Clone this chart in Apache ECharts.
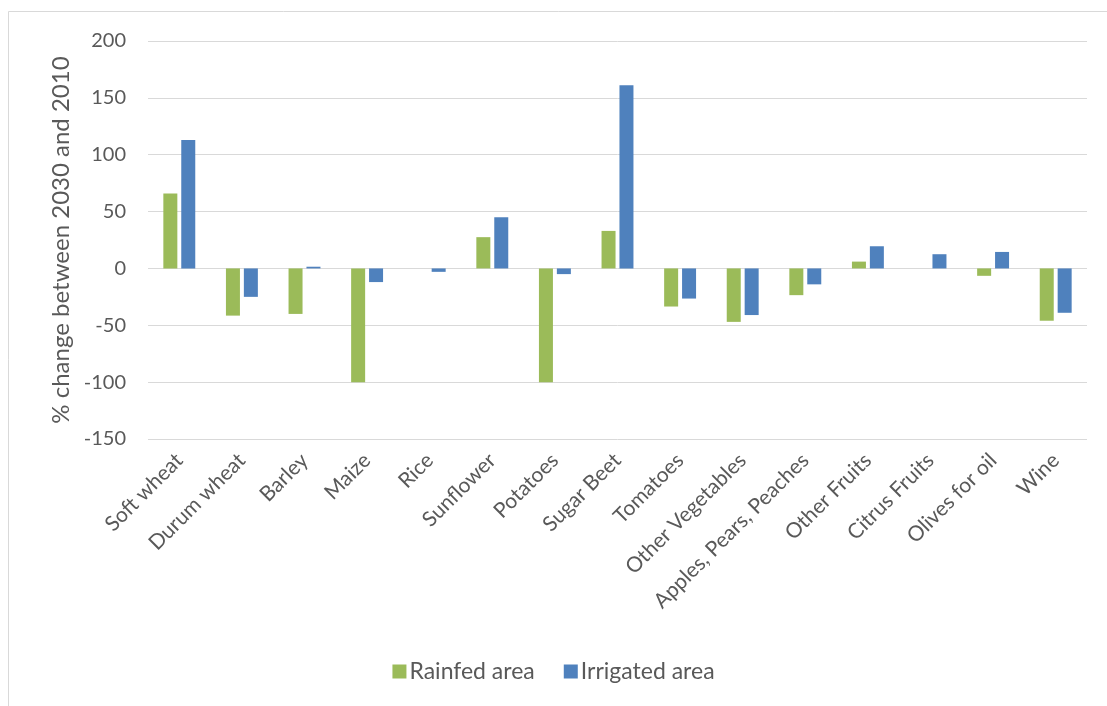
<!DOCTYPE html>
<html>
<head>
<meta charset="utf-8">
<script src="https://cdn.jsdelivr.net/npm/echarts@6/dist/echarts.min.js"></script>
<style>
  html, body { margin: 0; padding: 0; background: #ffffff; }
  #chart { width: 1107px; height: 706px; }
</style>
</head>
<body>
<div id="chart"></div>
<script>
// Crop categories along the x axis
const crops = [
  'Soft wheat', 'Durum wheat', 'Barley', 'Maize', 'Rice', 'Sunflower',
  'Potatoes', 'Sugar Beet', 'Tomatoes', 'Other Vegetables',
  'Apples, Pears, Peaches', 'Other Fruits', 'Citrus Fruits',
  'Olives for oil', 'Wine'
];

// % change between 2030 and 2010, rainfed area
const rainfed = [66, -41.5, -40, -100, 0, 27.5, -100, 33, -33.5, -47, -23.5, 6, 0, -6.5, -46];

// % change between 2030 and 2010, irrigated area
const irrigated = [113, -25, 1.5, -12, -3, 45, -5, 161, -26.5, -41, -14, 19.5, 12.5, 14.5, -39];

// Value axis range and step
const yMin = -150;
const yMax = 200;
const yStep = 50;

const textColor = '#595959';
const fontFamily = 'Lato, "Liberation Sans", sans-serif';

const chart = echarts.init(document.getElementById('chart'), null, { renderer: 'canvas' });

chart.setOption({
  animation: false,
  backgroundColor: '#ffffff',
  graphic: [{
    type: 'rect',
    shape: { x: 8.5, y: 11.5, width: 1300, height: 900 },
    style: { fill: 'none', stroke: '#d9d9d9', lineWidth: 1 },
    silent: true,
    z: -10
  }],
  grid: { left: 148, right: 20, top: 41, bottom: 267, containLabel: false },
  legend: {
    bottom: 18,
    left: 'center',
    itemWidth: 14,
    itemHeight: 14,
    itemGap: 29,
    icon: 'rect',
    textStyle: { color: textColor, fontSize: 23, fontFamily: fontFamily, padding: [0, 0, 0, -2] },
    data: ['Rainfed area', 'Irrigated area']
  },
  xAxis: {
    type: 'category',
    data: crops,
    position: 'bottom',
    axisLine: { show: false, onZero: false },
    axisTick: { show: false },
    axisLabel: {
      interval: 0,
      rotate: 45,
      margin: 18,
      color: textColor,
      fontSize: 21,
      fontFamily: fontFamily
    }
  },
  yAxis: {
    type: 'value',
    min: yMin,
    max: yMax,
    interval: yStep,
    name: '% change between 2030 and 2010',
    nameLocation: 'middle',
    nameGap: 74,
    nameTextStyle: { color: textColor, fontSize: 24, fontFamily: fontFamily },
    axisLine: { show: false },
    axisTick: { show: false },
    axisLabel: { color: textColor, fontSize: 20, fontFamily: fontFamily, margin: 22 },
    splitLine: { lineStyle: { color: '#d9d9d9', width: 1 } }
  },
  series: [
    {
      name: 'Rainfed area',
      type: 'bar',
      data: rainfed,
      barWidth: 14,
      barGap: '28%',
      itemStyle: { color: '#9bbb59' }
    },
    {
      name: 'Irrigated area',
      type: 'bar',
      data: irrigated,
      barWidth: 14,
      itemStyle: { color: '#4f81bd' }
    }
  ]
});
</script>
</body>
</html>
